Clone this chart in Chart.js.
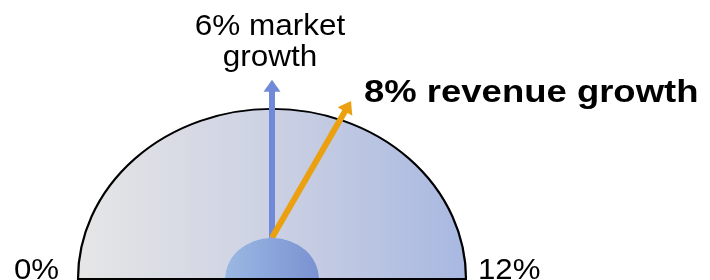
<!DOCTYPE html>
<html><head><meta charset="utf-8">
<script src="https://cdn.jsdelivr.net/npm/chart.js@4/dist/chart.umd.min.js"></script>
<style>html,body{margin:0;padding:0;background:#fff;overflow:hidden}#wrap{width:710px;height:280px;position:relative}</style>
</head><body><div id="wrap"><canvas id="c" width="710" height="280"></canvas></div>
<script>
// ---- data ----
const categories = ['market growth', 'revenue growth'];
const values = [6, 8];                 // % growth
const scaleRange = [0, 12];            // gauge min / max (%)
const tickLabels = ['0%', '12%'];
const valueLabels = [['6% market', 'growth'], ['8% revenue growth']];
const seriesColors = ['#7189d9', '#eba010'];

const SY = 0.877; // vertical squash of the gauge dial
const FONT = '"Liberation Sans", Arial, sans-serif';

function gaugeFill(c) {
  const a = c.chart.chartArea;
  if (!a) return '#cccccc';
  const g = c.chart.ctx.createLinearGradient(a.left, 0, a.right, 0);
  g.addColorStop(0, '#e6e6e6');
  g.addColorStop(0.5, '#ccd1e3');
  g.addColorStop(1, '#a8b8e1');
  return g;
}
function hubFill(c) {
  const a = c.chart.chartArea;
  if (!a) return '#8aa5dc';
  const cx = (a.left + a.right) / 2, r = (a.right - a.left) / 2 * 47 / 195;
  const g = c.chart.ctx.createLinearGradient(cx - r, 0, cx + r, 0);
  g.addColorStop(0, '#9bb8e3');
  g.addColorStop(1, '#7a92d1');
  return g;
}

const gaugePlugin = {
  id: 'gauge',
  beforeDatasetDraw(chart) {
    const el = chart.getDatasetMeta(0).data[0];
    const ctx = chart.ctx;
    ctx.save();
    ctx.translate(0, el.y); ctx.scale(1, SY); ctx.translate(0, -el.y);
  },
  afterDatasetDraw(chart, args) {
    const ctx = chart.ctx;
    const g = chart.getDatasetMeta(0).data[0];
    if (args.index === 0) {
      ctx.beginPath();
      ctx.arc(g.x, g.y, g.outerRadius - 1, g.startAngle, g.endAngle);
      ctx.lineWidth = 2.2; ctx.strokeStyle = '#000'; ctx.stroke();
    }
    ctx.restore();
    if (args.index === 0) {
      const hub = chart.getDatasetMeta(1).data[0];
      const ox = g.x, oy = g.y - hub.outerRadius * SY;
      const L = g.outerRadius * 0.81;
      values.forEach((v, i) => {
        const t = (v - scaleRange[0]) / (scaleRange[1] - scaleRange[0]);
        const a = Math.PI * (1 - t);
        const dx = Math.cos(a), dy = -Math.sin(a);
        const tx = ox + dx * L, ty = oy + dy * L;
        const hl = 12, hw = 8.5;
        const bx = tx - dx * hl, by = ty - dy * hl;
        ctx.save();
        ctx.strokeStyle = seriesColors[i]; ctx.fillStyle = seriesColors[i];
        ctx.lineWidth = 6; ctx.lineCap = 'butt';
        ctx.beginPath(); ctx.moveTo(ox, oy); ctx.lineTo(bx + dx, by + dy); ctx.stroke();
        ctx.beginPath(); ctx.moveTo(tx, ty);
        ctx.lineTo(bx - dy * hw, by + dx * hw);
        ctx.lineTo(bx + dy * hw, by - dx * hw);
        ctx.closePath(); ctx.fill();
        ctx.restore();
        chart.$tips = chart.$tips || [];
        chart.$tips[i] = {x: tx, y: ty};
      });
    }
  },
  afterDatasetsDraw(chart) {
    const ctx = chart.ctx;
    const g = chart.getDatasetMeta(0).data[0];
    ctx.save();
    ctx.beginPath();
    ctx.moveTo(g.x - g.outerRadius, g.y); ctx.lineTo(g.x + g.outerRadius, g.y);
    ctx.lineWidth = 2; ctx.strokeStyle = '#000'; ctx.stroke();
    ctx.restore();
  },
  afterDraw(chart) {
    const ctx = chart.ctx;
    const g = chart.getDatasetMeta(0).data[0];
    const tips = chart.$tips || [];
    ctx.save();
    ctx.fillStyle = '#000';
    // scale end labels
    ctx.font = '30px ' + FONT;
    ctx.textBaseline = 'alphabetic';
    ctx.save(); ctx.translate(g.x - g.outerRadius - 18, g.y); ctx.scale(1.04, 1);
    ctx.textAlign = 'right'; ctx.fillText(tickLabels[0], 0, 0); ctx.restore();
    ctx.save(); ctx.translate(g.x + g.outerRadius + 11, g.y); ctx.scale(1.04, 1);
    ctx.textAlign = 'left'; ctx.fillText(tickLabels[1], 0, 0); ctx.restore();
    // market growth label (above vertical arrow)
    if (tips[0]) {
      ctx.font = '30px ' + FONT;
      ctx.textAlign = 'center';
      const lines = valueLabels[0];
      const lh = 31;
      lines.forEach((ln, k) => {
        const y = tips[0].y - 14 - (lines.length - 1 - k) * lh;
        ctx.save(); ctx.translate(tips[0].x - 2, y); ctx.scale(1.05, 1);
        ctx.fillText(ln, 0, 0); ctx.restore();
      });
    }
    // revenue growth label (right of orange arrow)
    if (tips[1]) {
      ctx.font = 'bold 32px ' + FONT;
      ctx.textAlign = 'left';
      ctx.save(); ctx.translate(tips[1].x + 13, tips[1].y + 1); ctx.scale(1.14, 1);
      ctx.fillText(valueLabels[1][0], 0, 0); ctx.restore();
    }
    ctx.restore();
  }
};

new Chart(document.getElementById('c'), {
  type: 'doughnut',
  data: {
    labels: ['range'],
    datasets: [
      { label: 'gauge', data: [scaleRange[1] - scaleRange[0]], backgroundColor: gaugeFill,
        borderWidth: 0, weight: 148, order: 1 },
      { label: 'hub', data: [1], backgroundColor: hubFill, borderWidth: 0, weight: 47, order: 0 }
    ]
  },
  options: {
    responsive: false,
    animation: false,
    events: [],
    rotation: -90,
    circumference: 180,
    cutout: 0,
    layout: { padding: { left: 77, right: 243, top: 84, bottom: 1 } },
    plugins: { legend: { display: false }, tooltip: { enabled: false }, title: { display: false } }
  },
  plugins: [gaugePlugin]
});
</script>
</body></html>
